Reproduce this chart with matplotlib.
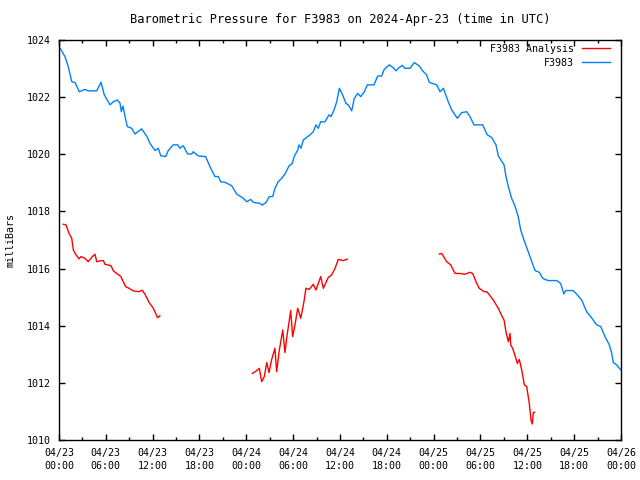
import matplotlib
matplotlib.use("Agg")
import matplotlib.pyplot as plt
import matplotlib.dates as mdates
from matplotlib.ticker import MultipleLocator
import numpy as np

# hours after 2024-04-23 00:00 UTC, pressure in mbar
obs_hours = [0.13, 0.77, 1.19, 1.63, 2.05, 2.60, 3.33, 3.75, 4.83, 5.38, 5.80, 6.32, 6.53, 6.96,
             7.47, 7.81, 7.98, 8.20, 8.46, 8.75, 9.31, 9.74, 10.59, 11.24, 11.66, 12.30, 12.72,
             13.03, 13.67, 14.00, 14.64, 15.21, 15.50, 15.92, 16.49, 17.00, 17.20, 17.85, 18.79,
             19.34, 19.98, 20.41, 20.71, 21.27, 22.12, 22.76, 23.61, 24.05, 24.56, 24.89, 25.75,
             26.04, 26.52, 26.94, 27.38, 27.67, 28.09, 28.53, 28.95, 29.46, 29.89, 30.14, 30.58,
             30.75, 31.00, 31.30, 31.73, 32.15, 32.58, 32.92, 33.22, 33.53, 34.08, 34.59, 34.85,
             35.23, 35.58, 35.91, 36.34, 36.77, 37.06, 37.50, 37.83, 38.27, 38.65, 39.11, 39.50,
             40.35, 40.83, 41.34, 41.67, 42.31, 42.83, 43.17, 43.47, 43.98, 44.32, 44.97, 45.52,
             46.16, 46.59, 47.10, 47.44, 48.39, 48.81, 49.23, 49.87, 50.31, 51.03, 51.59, 52.23,
             52.65, 53.16, 54.28, 54.87, 55.43, 55.98, 56.28, 57.01, 57.26, 57.56, 57.99, 58.42,
             58.84, 59.15, 59.57, 60.12, 60.56, 60.98, 61.53, 61.97, 62.26, 62.68, 63.76, 64.27,
             64.69, 64.91, 65.89, 66.53, 66.96, 67.60, 68.11, 68.88, 69.40, 69.95, 70.50, 70.81,
             71.01, 71.45, 71.78, 72.00]
obs_mbar = [1023.71, 1023.42, 1023.07, 1022.54, 1022.51, 1022.19, 1022.27, 1022.22, 1022.22,
            1022.52, 1022.08, 1021.84, 1021.73, 1021.84, 1021.90, 1021.79, 1021.49, 1021.69,
            1021.32, 1020.97, 1020.91, 1020.71, 1020.89, 1020.64, 1020.38, 1020.13, 1020.21,
            1019.95, 1019.92, 1020.13, 1020.33, 1020.33, 1020.21, 1020.30, 1020.01, 1020.01,
            1020.09, 1019.94, 1019.92, 1019.57, 1019.22, 1019.22, 1019.04, 1019.02, 1018.90,
            1018.61, 1018.46, 1018.34, 1018.42, 1018.32, 1018.28, 1018.22, 1018.31, 1018.52,
            1018.52, 1018.81, 1019.04, 1019.16, 1019.31, 1019.59, 1019.68, 1019.92, 1020.15,
            1020.33, 1020.21, 1020.50, 1020.59, 1020.68, 1020.79, 1021.03, 1020.91, 1021.14,
            1021.14, 1021.38, 1021.32, 1021.55, 1021.84, 1022.31, 1022.08, 1021.78, 1021.73,
            1021.52, 1021.96, 1022.13, 1022.02, 1022.19, 1022.43, 1022.43, 1022.74, 1022.74,
            1022.97, 1023.13, 1023.03, 1022.92, 1023.01, 1023.11, 1023.01, 1023.01, 1023.21,
            1023.09, 1022.92, 1022.78, 1022.52, 1022.43, 1022.19, 1022.31, 1021.84, 1021.55,
            1021.26, 1021.46, 1021.49, 1021.32, 1021.03, 1021.03, 1020.68, 1020.59, 1020.33,
            1019.94, 1019.63, 1019.22, 1018.87, 1018.46, 1018.19, 1017.82, 1017.35, 1017.00,
            1016.59, 1016.24, 1015.93, 1015.87, 1015.66, 1015.62, 1015.58, 1015.58, 1015.48,
            1015.11, 1015.23, 1015.23, 1015.04, 1014.90, 1014.49, 1014.32, 1014.03, 1013.97,
            1013.62, 1013.33, 1013.03, 1012.71, 1012.63, 1012.51, 1012.45]

# analysis comes in three separate runs
ana1_hours = [0.55, 0.90, 1.28, 1.63, 1.83, 2.14, 2.56, 2.82, 3.33, 3.75, 4.27, 4.61, 4.83, 5.25,
              5.68, 5.89, 6.66, 6.96, 7.39, 7.94, 8.24, 8.54, 8.97, 9.52, 10.16, 10.67, 11.02,
              11.53, 12.08, 12.64, 12.94]
ana1_mbar = [1017.55, 1017.53, 1017.23, 1017.06, 1016.65, 1016.50, 1016.34, 1016.42, 1016.36,
             1016.24, 1016.42, 1016.50, 1016.24, 1016.27, 1016.28, 1016.15, 1016.10, 1015.92,
             1015.83, 1015.72, 1015.54, 1015.37, 1015.31, 1015.22, 1015.19, 1015.24, 1015.10,
             1014.82, 1014.61, 1014.28, 1014.35]
ana2_hours = [24.76, 25.24, 25.66, 25.97, 26.30, 26.61, 26.90, 27.25, 27.67, 27.89, 28.22, 28.66,
              28.95, 29.17, 29.68, 29.94, 30.23, 30.58, 30.96, 31.39, 31.64, 32.07, 32.58, 32.92,
              33.53, 33.86, 34.50, 34.94, 35.36, 35.78, 36.42, 36.93]
ana2_mbar = [1012.33, 1012.41, 1012.51, 1012.04, 1012.22, 1012.71, 1012.36, 1012.82, 1013.21,
             1012.39, 1013.13, 1013.85, 1013.06, 1013.56, 1014.53, 1013.62, 1014.03, 1014.61,
             1014.26, 1014.84, 1015.31, 1015.27, 1015.45, 1015.25, 1015.72, 1015.31, 1015.69,
             1015.78, 1016.01, 1016.32, 1016.28, 1016.33]
ana3_hours = [48.72, 49.03, 49.67, 50.18, 50.73, 51.37, 52.01, 52.65, 53.00, 53.51, 53.84, 54.48,
              54.79, 55.00, 55.64, 56.28, 56.79, 57.01, 57.26, 57.56, 57.78, 57.86, 58.12, 58.54,
              58.71, 58.97, 59.28, 59.61, 59.92, 60.25, 60.47, 60.63, 60.76, 60.94]
ana3_mbar = [1016.51, 1016.53, 1016.24, 1016.13, 1015.83, 1015.83, 1015.80, 1015.87, 1015.83,
             1015.48, 1015.31, 1015.19, 1015.19, 1015.13, 1014.90, 1014.61, 1014.32, 1014.20,
             1013.79, 1013.44, 1013.73, 1013.33, 1013.21, 1012.86, 1012.68, 1012.82, 1012.45,
             1011.93, 1011.87, 1011.28, 1010.70, 1010.56, 1010.96, 1010.97]

start = np.datetime64("2024-04-23T00:00")


def to_time(hours):
    return start + (np.array(hours) * 60).round().astype("timedelta64[m]")


plt.rcParams["font.family"] = "DejaVu Sans Mono"
plt.rcParams["font.size"] = 7.2

fig = plt.figure(figsize=(6.4, 4.8), dpi=100)
ax = fig.add_axes([59 / 640, 40 / 480, 562 / 640, 400 / 480])

red = "#ff0000"
blue = "#0080ff"
ax.plot(to_time(ana1_hours), ana1_mbar, color=red, lw=1.0, label="F3983 Analysis")
ax.plot(to_time(ana2_hours), ana2_mbar, color=red, lw=1.0)
ax.plot(to_time(ana3_hours), ana3_mbar, color=red, lw=1.0)
ax.plot(to_time(obs_hours), obs_mbar, color=blue, lw=1.0, label="F3983")

ax.set_xlim(start, start + np.timedelta64(72, "h"))
ax.set_ylim(1010, 1024)
ax.xaxis.set_major_locator(mdates.HourLocator(byhour=[0, 6, 12, 18]))
ax.xaxis.set_minor_locator(mdates.HourLocator(byhour=[3, 9, 15, 21]))
ax.xaxis.set_major_formatter(mdates.DateFormatter("%m/%d\n%H:%M"))
ax.yaxis.set_major_locator(MultipleLocator(2))
ax.tick_params(which="both", direction="in", top=True, right=True, width=1.0)
ax.tick_params(which="major", length=4)
ax.tick_params(which="minor", length=2)
ax.tick_params(axis="x", pad=6)
ax.tick_params(axis="y", pad=6)
for lbl in ax.get_xticklabels():
    lbl.set_linespacing(1.35)
for s in ax.spines.values():
    s.set_linewidth(1.0)

ax.set_ylabel("milliBars", labelpad=8)
ax.set_title("Barometric Pressure for F3983 on 2024-Apr-23 (time in UTC)", pad=12)
ax.legend(loc="upper right", bbox_to_anchor=(0.9804, 0.99), frameon=False, markerfirst=False,
          handlelength=2.8, handletextpad=0.8, labelspacing=0.4, borderaxespad=0, borderpad=0)

fig.savefig("out.png", dpi=100)
